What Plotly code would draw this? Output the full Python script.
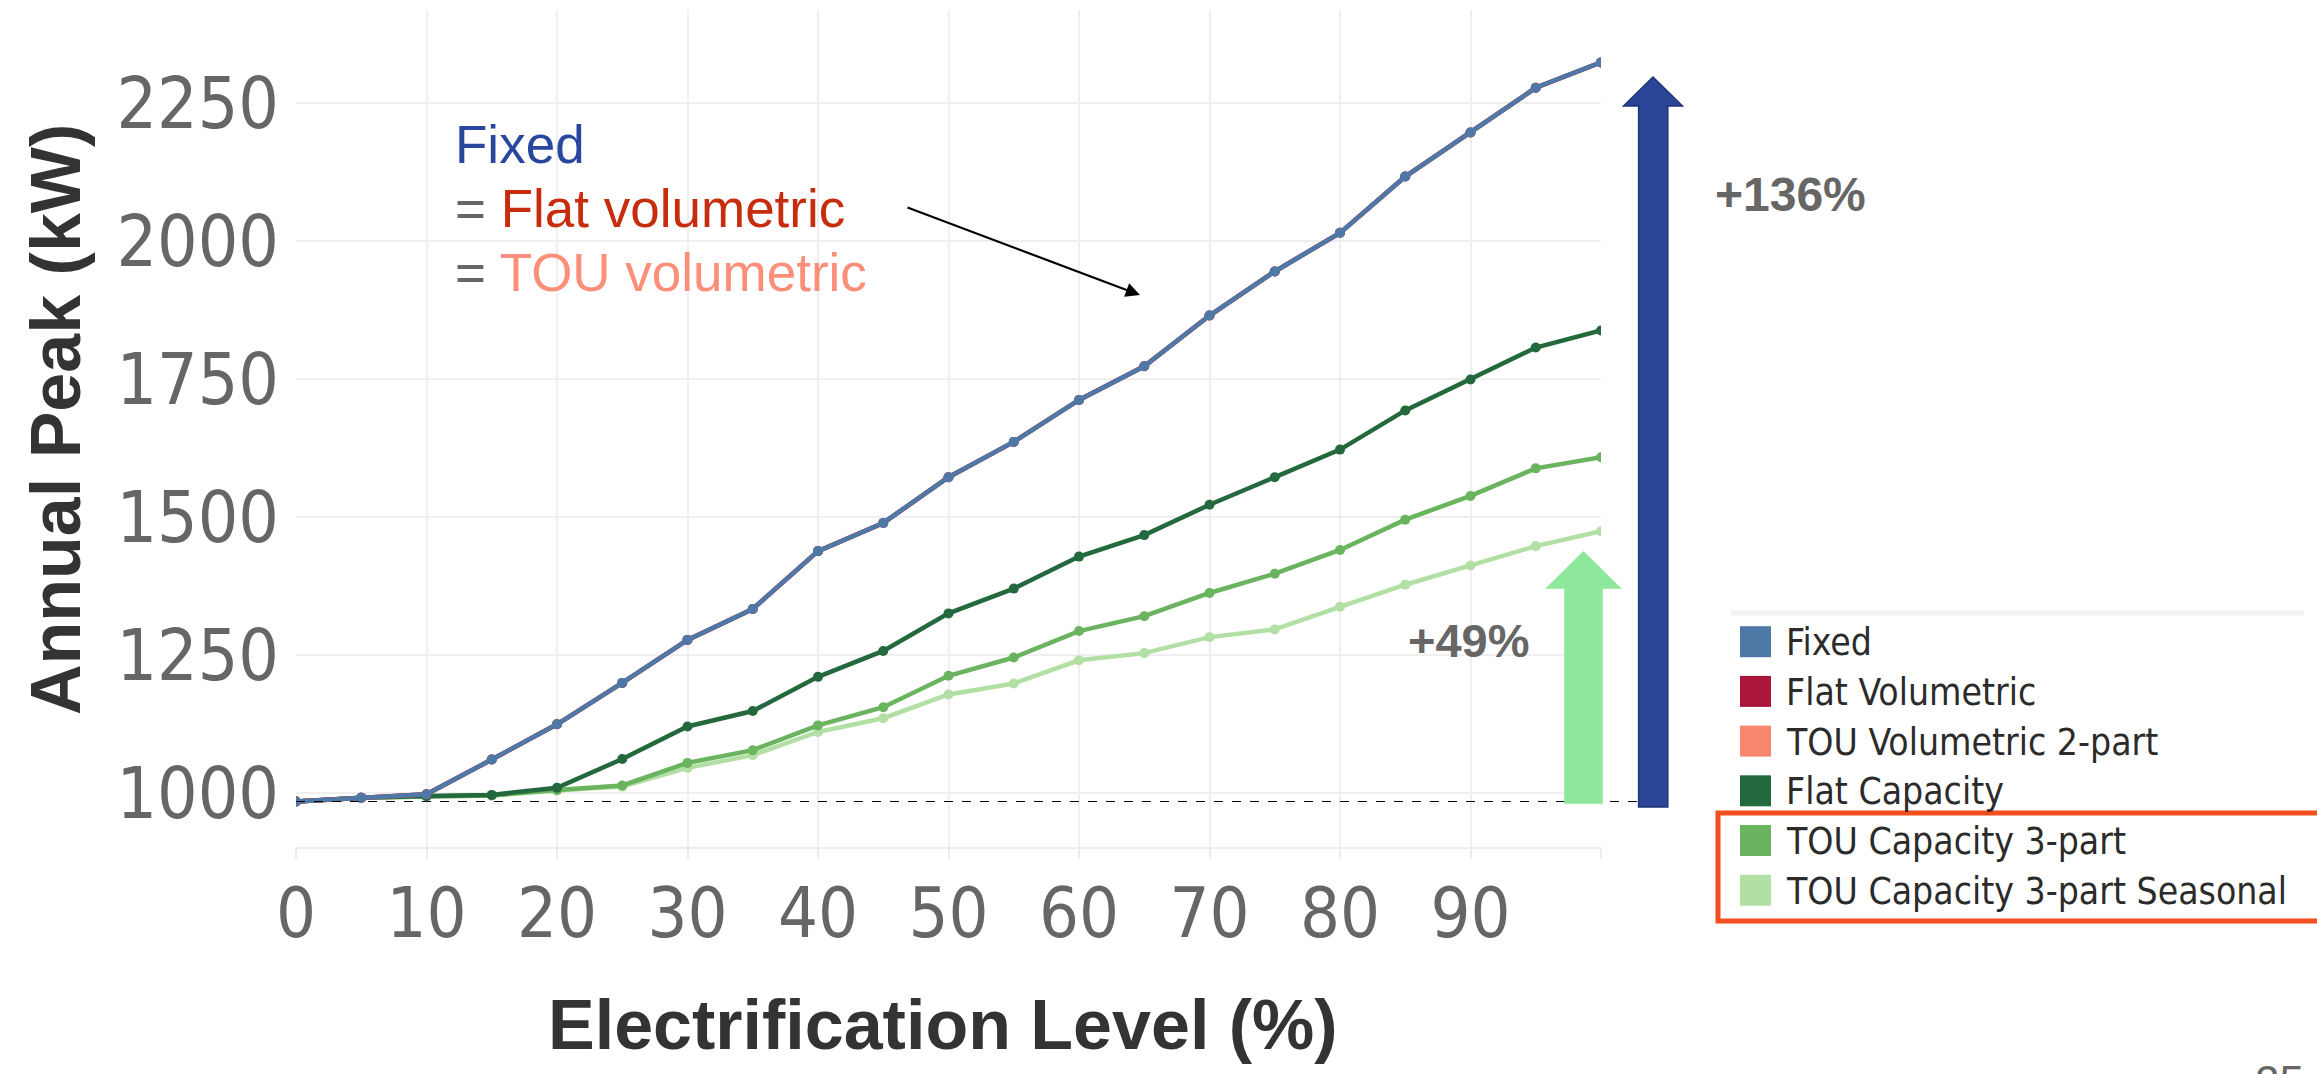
import plotly.graph_objects as go

# ---------------- data ----------------
electrification = [0, 5, 10, 15, 20, 25, 30, 35, 40, 45, 50, 55, 60, 65, 70, 75, 80, 85, 90, 95, 100]

fixed = [984, 991, 997, 1060, 1124, 1199, 1277, 1333, 1438, 1489, 1572, 1636, 1712, 1773, 1865,
         1945, 2015, 2117, 2197, 2278, 2324]
flat_volumetric = [984, 991, 997, 1060, 1124, 1199, 1277, 1333, 1438, 1489, 1572, 1636, 1712, 1773, 1865,
                   1945, 2015, 2117, 2197, 2278, 2324]
tou_volumetric_2part = [984, 991, 997, 1060, 1124, 1199, 1277, 1333, 1438, 1489, 1572, 1636, 1712, 1773, 1865,
                        1945, 2015, 2117, 2197, 2278, 2324]
flat_capacity = [984, 991, 994, 996, 1009, 1061, 1120, 1148, 1210, 1257, 1325, 1370, 1428, 1467, 1522,
                 1572, 1622, 1693, 1749, 1807, 1838]
tou_capacity_3part = [984, 991, 993, 995, 1005, 1013, 1054, 1077, 1122, 1155, 1212, 1245, 1293, 1320, 1362,
                      1397, 1440, 1495, 1538, 1588, 1608]
tou_capacity_3part_seasonal = [984, 991, 993, 995, 1004, 1011, 1045, 1068, 1110, 1135, 1178, 1198, 1240, 1253,
                               1282, 1296, 1337, 1377, 1412, 1447, 1474]

series_names = ["Fixed", "Flat Volumetric", "TOU Volumetric 2-part", "Flat Capacity",
                "TOU Capacity 3-part", "TOU Capacity 3-part Seasonal"]
series_values = [fixed, flat_volumetric, tou_volumetric_2part, flat_capacity,
                 tou_capacity_3part, tou_capacity_3part_seasonal]
series_colors = ["#4e79a7", "#a9153b", "#f9876f", "#24693d", "#6ab35f", "#b2dfa4"]

x_tickvals = [0, 10, 20, 30, 40, 50, 60, 70, 80, 90, 100]
x_ticktext = ["0", "10", "20", "30", "40", "50", "60", "70", "80", "90", ""]
y_tickvals = [1000, 1250, 1500, 1750, 2000, 2250]

pct_fixed = "+136%"
pct_seasonal = "+49%"

# ---------------- layout geometry (pixels) ----------------
W, H = 2317, 1074
L, R, T, B = 296, 1601, 10, 847


def px(x):
    return (x - L) / (R - L)


def py(y):
    return (B - y) / (B - T)


fig = go.Figure()

# draw order: seasonal at bottom, fixed on top
for idx in [5, 4, 3, 2, 1, 0]:
    fig.add_trace(go.Scatter(
        x=electrification, y=series_values[idx], name=series_names[idx],
        mode="lines+markers",
        line=dict(color=series_colors[idx], width=4.5),
        marker=dict(color=series_colors[idx], size=10),
        showlegend=False,
    ))

shapes = []
annotations = []

# baseline dashed line (level at 0% electrification)
shapes.append(dict(type="line", xref="paper", yref="y", x0=0, x1=px(1639),
                   y0=fixed[0], y1=fixed[0], line=dict(color="black", width=1.2, dash="dash"),
                   layer="above"))


def block_arrow(xl_head, xr_head, xl_shaft, xr_shaft, tip_y, head_base_y, bottom_y, fill, line):
    tip_x = (xl_head + xr_head) / 2
    pts = [(xl_shaft, bottom_y), (xl_shaft, head_base_y), (xl_head, head_base_y), (tip_x, tip_y),
           (xr_head, head_base_y), (xr_shaft, head_base_y), (xr_shaft, bottom_y)]
    path = "M " + " L ".join(f"{px(a):.5f},{py(b):.5f}" for a, b in pts) + " Z"
    return dict(type="path", xref="paper", yref="paper", path=path, fillcolor=fill,
                line=dict(color=line, width=1.5), layer="above")


shapes.append(block_arrow(1623.5, 1682.5, 1638.6, 1667.8, 77, 106, 807, "#2b4596", "#1f3578"))
shapes.append(block_arrow(1547, 1620, 1565, 1602, 552, 588, 803, "#8de89b", "#8de89b"))

# legend (Tableau style)
shapes.append(dict(type="line", xref="paper", yref="paper", x0=px(1730), x1=px(2304),
                   y0=py(613), y1=py(613), line=dict(color="#f4f4f4", width=5)))
row0, row_step = 641.7, 49.7
leg_font = "DejaVu Sans Condensed, DejaVu Sans, sans-serif"
for i, (nm, col) in enumerate(zip(series_names, series_colors)):
    cy = row0 + i * row_step
    shapes.append(dict(type="rect", xref="paper", yref="paper",
                       x0=px(1740), x1=px(1771), y0=py(cy - 15.5), y1=py(cy + 15.5),
                       fillcolor=col, line=dict(width=0)))
    annotations.append(dict(xref="paper", yref="paper", x=px(1784), y=py(cy + 1), text=nm,
                            showarrow=False, xanchor="left", yanchor="middle",
                            font=dict(family=leg_font, size=37, color="#2b2b2b")))
# highlight box
shapes.append(dict(type="rect", xref="paper", yref="paper", x0=px(1718), x1=px(2330),
                   y0=py(813), y1=py(921), line=dict(color="#f24e1e", width=5)))

# text annotations
txt_font = "Liberation Sans, Arial, sans-serif"
annotations.append(dict(xref="paper", yref="paper", x=px(453), y=py(144), xanchor="left", yanchor="middle",
                        showarrow=False, text="Fixed",
                        font=dict(family=txt_font, size=53, color="#2a47a0")))
annotations.append(dict(xref="paper", yref="paper", x=px(453), y=py(208), xanchor="left", yanchor="middle",
                        showarrow=False,
                        text="<span style='color:#666666'>=</span> Flat volumetric",
                        font=dict(family=txt_font, size=53, color="#c72c0c")))
annotations.append(dict(xref="paper", yref="paper", x=px(453), y=py(272), xanchor="left", yanchor="middle",
                        showarrow=False,
                        text="<span style='color:#666666'>=</span> TOU volumetric",
                        font=dict(family=txt_font, size=53, color="#fb8f79")))
# black pointer arrow
annotations.append(dict(xref="paper", yref="paper", x=px(1140), y=py(295), ax=906 - 1140, ay=207 - 295,
                        axref="pixel", ayref="pixel", text="", showarrow=True, arrowhead=2,
                        arrowsize=1.3, arrowwidth=2.2, arrowcolor="black"))
annotations.append(dict(xref="paper", yref="paper", x=px(1790), y=py(194), showarrow=False,
                        xanchor="center", yanchor="middle",
                        text=f"<b>{pct_fixed}</b>",
                        font=dict(family=txt_font, size=48, color="#666666")))
annotations.append(dict(xref="paper", yref="paper", x=px(1469), y=py(640), showarrow=False,
                        xanchor="center", yanchor="middle",
                        text=f"<b>{pct_seasonal}</b>",
                        font=dict(family=txt_font, size=47, color="#666666")))

# axis titles
annotations.append(dict(xref="paper", yref="paper", x=px(56), y=py(420), showarrow=False, textangle=-90,
                        xanchor="center", yanchor="middle",
                        text="<b>Annual Peak (kW)</b>",
                        font=dict(family=txt_font, size=70, color="#333333")))
annotations.append(dict(xref="paper", yref="paper", x=px(943), y=py(1025), showarrow=False,
                        xanchor="center", yanchor="middle",
                        text="<b>Electrification Level (%)</b>",
                        font=dict(family=txt_font, size=70, color="#333333")))
# page number (cut off at bottom)
annotations.append(dict(xref="paper", yref="paper", x=px(2253), y=py(1081), showarrow=False,
                        xanchor="left", yanchor="middle", text="25",
                        font=dict(family=txt_font, size=44, color="#666666")))

fig.update_layout(
    width=W, height=H,
    margin=dict(l=L, r=W - R, t=T, b=H - B, pad=0),
    paper_bgcolor="white", plot_bgcolor="white",
    showlegend=False,
    shapes=shapes, annotations=annotations,
    xaxis=dict(range=[0, 100], tickmode="array", tickvals=x_tickvals, ticktext=x_ticktext,
               showgrid=True, gridcolor="#efefef", gridwidth=1.5, zeroline=False,
               showline=True, linecolor="#ececec", linewidth=2,
               ticks="outside", ticklen=10, tickcolor="#ececec", tickwidth=1.5,
               ticklabelstandoff=-6,
               tickfont=dict(family="DejaVu Sans Condensed, DejaVu Sans, sans-serif",
                             size=70, color="#666666")),
    yaxis=dict(range=[901.5, 2419], tickmode="array", tickvals=y_tickvals,
               showgrid=True, gridcolor="#efefef", gridwidth=1.5, zeroline=False,
               showline=False, ticks="", ticklabelstandoff=16,
               tickfont=dict(family="DejaVu Sans Condensed, DejaVu Sans, sans-serif",
                             size=71, color="#666666")),
)

fig.write_html("out.html")
